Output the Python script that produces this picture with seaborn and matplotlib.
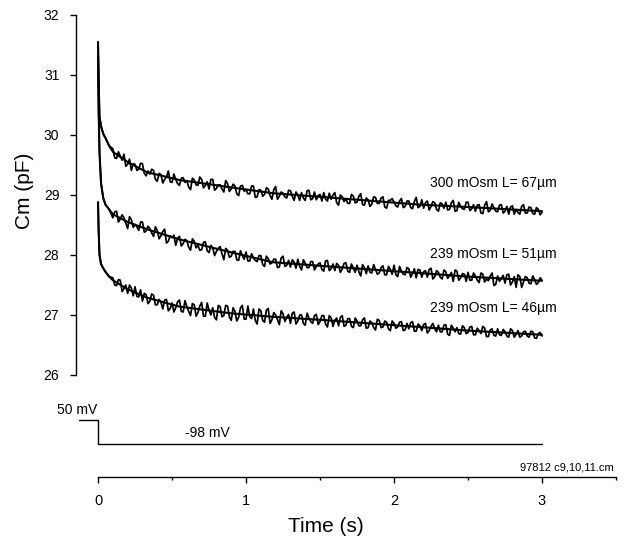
import pandas as pd
import seaborn as sns
import matplotlib.pyplot as plt

# sample times (s): dense right after the step, then every 25 ms
time = [0, 0.004, 0.01, 0.02, 0.035, 0.05, 0.075,
        0.1, 0.125, 0.15, 0.175, 0.2, 0.225, 0.25, 0.275,
        0.3, 0.325, 0.35, 0.375, 0.4, 0.425, 0.45, 0.475,
        0.5, 0.525, 0.55, 0.575, 0.6, 0.625, 0.65, 0.675,
        0.7, 0.725, 0.75, 0.775, 0.8, 0.825, 0.85, 0.875,
        0.9, 0.925, 0.95, 0.975, 1.0, 1.025, 1.05, 1.075,
        1.1, 1.125, 1.15, 1.175, 1.2, 1.225, 1.25, 1.275,
        1.3, 1.325, 1.35, 1.375, 1.4, 1.425, 1.45, 1.475,
        1.5, 1.525, 1.55, 1.575, 1.6, 1.625, 1.65, 1.675,
        1.7, 1.725, 1.75, 1.775, 1.8, 1.825, 1.85, 1.875,
        1.9, 1.925, 1.95, 1.975, 2.0, 2.025, 2.05, 2.075,
        2.1, 2.125, 2.15, 2.175, 2.2, 2.225, 2.25, 2.275,
        2.3, 2.325, 2.35, 2.375, 2.4, 2.425, 2.45, 2.475,
        2.5, 2.525, 2.55, 2.575, 2.6, 2.625, 2.65, 2.675,
        2.7, 2.725, 2.75, 2.775, 2.8, 2.825, 2.85, 2.875,
        2.9, 2.925, 2.95, 2.975, 3.0]

# in-between samples (s)
time_mid = [0.1125, 0.1375, 0.1625, 0.1875, 0.2125, 0.2375, 0.2625, 0.2875,
            0.3125, 0.3375, 0.3625, 0.3875, 0.4125, 0.4375, 0.4625, 0.4875,
            0.5125, 0.5375, 0.5625, 0.5875, 0.6125, 0.6375, 0.6625, 0.6875,
            0.7125, 0.7375, 0.7625, 0.7875, 0.8125, 0.8375, 0.8625, 0.8875,
            0.9125, 0.9375, 0.9625, 0.9875, 1.0125, 1.0375, 1.0625, 1.0875,
            1.1125, 1.1375, 1.1625, 1.1875, 1.2125, 1.2375, 1.2625, 1.2875,
            1.3125, 1.3375, 1.3625, 1.3875, 1.4125, 1.4375, 1.4625, 1.4875,
            1.5125, 1.5375, 1.5625, 1.5875, 1.6125, 1.6375, 1.6625, 1.6875,
            1.7125, 1.7375, 1.7625, 1.7875, 1.8125, 1.8375, 1.8625, 1.8875,
            1.9125, 1.9375, 1.9625, 1.9875, 2.0125, 2.0375, 2.0625, 2.0875,
            2.1125, 2.1375, 2.1625, 2.1875, 2.2125, 2.2375, 2.2625, 2.2875,
            2.3125, 2.3375, 2.3625, 2.3875, 2.4125, 2.4375, 2.4625, 2.4875,
            2.5125, 2.5375, 2.5625, 2.5875, 2.6125, 2.6375, 2.6625, 2.6875,
            2.7125, 2.7375, 2.7625, 2.7875, 2.8125, 2.8375, 2.8625, 2.8875,
            2.9125, 2.9375, 2.9625, 2.9875]

# Cm traces (pF)
cm_300_67 = [31.55, 30.90, 30.30, 30.15, 30.02, 29.95, 29.82,
             29.77, 29.61, 29.65, 29.68, 29.51, 29.41, 29.51, 29.43,
             29.52, 29.32, 29.35, 29.41, 29.23, 29.34, 29.26, 29.40,
             29.21, 29.26, 29.16, 29.29, 29.24, 29.09, 29.25, 29.16,
             29.26, 29.16, 29.10, 29.26, 29.11, 29.17, 29.05, 29.19,
             29.10, 29.15, 28.99, 29.16, 29.09, 29.02, 29.15, 28.97,
             29.08, 29.01, 29.10, 28.93, 29.14, 28.98, 29.03, 28.95,
             29.07, 28.91, 29.00, 29.04, 28.91, 29.08, 28.94, 28.92,
             29.01, 29.04, 28.90, 28.93, 29.04, 28.83, 28.97, 28.94,
             28.86, 28.98, 28.88, 29.02, 28.83, 28.92, 28.85, 28.96,
             28.86, 28.97, 28.78, 28.91, 28.88, 28.80, 28.94, 28.81,
             28.90, 28.77, 28.96, 28.81, 28.78, 28.90, 28.81, 28.87,
             28.73, 28.85, 28.88, 28.76, 28.91, 28.74, 28.81, 28.76,
             28.88, 28.77, 28.73, 28.84, 28.69, 28.89, 28.74, 28.79,
             28.72, 28.84, 28.73, 28.68, 28.82, 28.76, 28.68, 28.84,
             28.70, 28.79, 28.68, 28.76, 28.71]
cm_300_67_mid = [29.62, 29.72, 29.58, 29.48, 29.60, 29.52, 29.41, 29.53,
                 29.36, 29.40, 29.43, 29.26, 29.36, 29.20, 29.30, 29.22,
                 29.35, 29.19, 29.28, 29.21, 29.13, 29.28, 29.17, 29.30,
                 29.12, 29.22, 29.26, 29.08, 29.17, 29.10, 29.24, 29.06,
                 29.18, 29.02, 29.15, 29.06, 29.02, 29.15, 28.96, 29.09,
                 28.98, 29.12, 28.99, 29.09, 28.93, 29.05, 28.97, 29.08,
                 28.98, 29.05, 28.91, 28.95, 29.07, 28.92, 29.05, 28.99,
                 28.90, 28.93, 29.03, 29.00, 28.87, 29.00, 28.89, 28.86,
                 29.01, 28.87, 28.98, 28.84, 28.95, 28.81, 28.97, 28.86,
                 28.95, 28.80, 28.91, 28.94, 28.82, 28.90, 28.79, 28.90,
                 28.79, 28.89, 28.79, 28.92, 28.87, 28.75, 28.89, 28.76,
                 28.87, 28.78, 28.75, 28.87, 28.73, 28.88, 28.77, 28.88,
                 28.74, 28.84, 28.83, 28.70, 28.83, 28.72, 28.85, 28.73,
                 28.83, 28.70, 28.81, 28.80, 28.68, 28.71, 28.81, 28.70,
                 28.80, 28.69, 28.79, 28.67]

cm_239_51 = [31.30, 30.40, 29.70, 29.20, 28.95, 28.84, 28.76,
             28.62, 28.73, 28.60, 28.62, 28.44, 28.59, 28.51, 28.41,
             28.55, 28.40, 28.44, 28.31, 28.41, 28.32, 28.43, 28.23,
             28.29, 28.16, 28.31, 28.19, 28.24, 28.08, 28.23, 28.16,
             28.09, 28.22, 28.04, 28.12, 28.06, 28.14, 27.92, 28.08,
             27.98, 28.06, 27.91, 27.99, 28.05, 27.90, 27.95, 27.89,
             27.99, 27.81, 27.94, 27.87, 27.93, 27.80, 27.98, 27.83,
             27.80, 27.88, 27.93, 27.75, 27.86, 27.79, 27.89, 27.81,
             27.87, 27.73, 27.91, 27.77, 27.74, 27.83, 27.77, 27.87,
             27.71, 27.78, 27.83, 27.65, 27.79, 27.82, 27.70, 27.76,
             27.70, 27.82, 27.67, 27.76, 27.83, 27.64, 27.73, 27.67,
             27.77, 27.69, 27.62, 27.75, 27.72, 27.63, 27.78, 27.64,
             27.71, 27.60, 27.72, 27.65, 27.56, 27.73, 27.62, 27.68,
             27.71, 27.58, 27.65, 27.54, 27.68, 27.60, 27.65, 27.49,
             27.65, 27.61, 27.53, 27.68, 27.55, 27.46, 27.64, 27.55,
             27.62, 27.52, 27.59, 27.54, 27.58]
cm_239_51_mid = [28.72, 28.55, 28.67, 28.53, 28.64, 28.46, 28.47, 28.55,
                 28.38, 28.48, 28.37, 28.47, 28.27, 28.39, 28.20, 28.32,
                 28.33, 28.28, 28.15, 28.26, 28.13, 28.27, 28.12, 28.08,
                 28.21, 28.07, 28.16, 27.99, 28.11, 28.02, 28.11, 27.96,
                 28.06, 27.92, 28.07, 27.93, 27.90, 28.02, 27.91, 27.99,
                 27.84, 27.98, 27.85, 27.93, 27.79, 27.95, 27.81, 27.91,
                 27.92, 27.78, 27.81, 27.92, 27.79, 27.89, 27.75, 27.85,
                 27.76, 27.90, 27.74, 27.85, 27.86, 27.71, 27.86, 27.73,
                 27.85, 27.71, 27.72, 27.84, 27.69, 27.71, 27.84, 27.68,
                 27.79, 27.67, 27.81, 27.68, 27.67, 27.81, 27.68, 27.79,
                 27.63, 27.77, 27.76, 27.63, 27.74, 27.76, 27.60, 27.74,
                 27.63, 27.75, 27.61, 27.71, 27.75, 27.58, 27.69, 27.56,
                 27.58, 27.70, 27.58, 27.70, 27.55, 27.57, 27.70, 27.51,
                 27.56, 27.66, 27.67, 27.50, 27.64, 27.67, 27.46, 27.64,
                 27.53, 27.65, 27.51, 27.62]

cm_239_46 = [28.88, 28.40, 28.00, 27.85, 27.78, 27.72, 27.64,
             27.62, 27.49, 27.58, 27.44, 27.36, 27.45, 27.47, 27.30,
             27.23, 27.34, 27.23, 27.33, 27.17, 27.21, 27.25, 27.07,
             27.20, 27.12, 27.25, 27.05, 27.14, 26.99, 27.17, 27.04,
             27.21, 26.98, 27.08, 27.12, 26.92, 27.14, 26.99, 27.15,
             26.91, 27.06, 26.96, 27.16, 26.93, 26.97, 27.10, 26.85,
             27.07, 26.88, 27.11, 26.92, 27.00, 26.84, 27.02, 26.96,
             26.86, 27.05, 26.90, 27.00, 26.83, 26.95, 26.86, 27.01,
             26.89, 26.99, 26.80, 26.95, 26.91, 26.82, 26.99, 26.83,
             26.94, 26.79, 26.90, 26.82, 26.95, 26.79, 26.87, 26.75,
             26.91, 26.80, 26.88, 26.74, 26.86, 26.80, 26.89, 26.75,
             26.77, 26.89, 26.73, 26.82, 26.84, 26.70, 26.81, 26.77,
             26.83, 26.72, 26.84, 26.66, 26.78, 26.79, 26.68, 26.79,
             26.71, 26.81, 26.67, 26.74, 26.81, 26.64, 26.75, 26.66,
             26.77, 26.66, 26.72, 26.63, 26.74, 26.68, 26.63, 26.72,
             26.65, 26.73, 26.62, 26.69, 26.65]
cm_239_46_mid = [27.50, 27.59, 27.39, 27.50, 27.50, 27.32, 27.31, 27.42,
                 27.36, 27.19, 27.35, 27.17, 27.26, 27.10, 27.26, 27.11,
                 27.05, 27.22, 27.06, 27.24, 27.06, 27.19, 26.98, 27.15,
                 26.98, 27.20, 27.00, 26.96, 27.16, 26.97, 27.16, 26.97,
                 27.12, 26.90, 27.12, 26.93, 27.15, 26.94, 26.91, 27.10,
                 26.91, 27.08, 26.86, 27.04, 26.92, 27.07, 26.89, 27.01,
                 27.03, 26.85, 27.00, 26.86, 27.03, 26.89, 26.99, 26.84,
                 26.99, 26.85, 26.99, 26.81, 26.95, 26.96, 26.81, 26.94,
                 26.81, 26.95, 26.82, 26.92, 26.78, 26.90, 26.79, 26.93,
                 26.79, 26.90, 26.77, 26.90, 26.78, 26.88, 26.74, 26.86,
                 26.87, 26.73, 26.85, 26.74, 26.86, 26.74, 26.86, 26.72,
                 26.72, 26.83, 26.68, 26.83, 26.72, 26.69, 26.82, 26.69,
                 26.80, 26.67, 26.78, 26.69, 26.78, 26.64, 26.77, 26.65,
                 26.67, 26.76, 26.65, 26.77, 26.63, 26.74, 26.65, 26.73,
                 26.63, 26.72, 26.61, 26.71]

# smooth fits drawn through the traces
fit_time = [0, 0.004, 0.01, 0.02, 0.035, 0.05, 0.075, 0.1, 0.2, 0.33,
            0.55, 0.89, 1.18, 1.5, 2.17, 2.5, 3.0]
fit_300_67 = [31.55, 30.90, 30.30, 30.15, 30.02, 29.95, 29.82, 29.72, 29.55,
              29.38, 29.25, 29.13, 29.03, 28.97, 28.84, 28.80, 28.73]
fit_239_51 = [31.30, 30.40, 29.70, 29.20, 28.95, 28.84, 28.76, 28.68, 28.55,
              28.43, 28.26, 28.05, 27.88, 27.82, 27.70, 27.64, 27.57]
fit_239_46 = [28.88, 28.40, 28.00, 27.85, 27.78, 27.72, 27.64, 27.58, 27.43,
              27.29, 27.14, 27.03, 26.97, 26.92, 26.80, 26.74, 26.67]

trace_labels = ['300 mOsm L= 67µm', '239 mOsm L= 51µm', '239 mOsm L= 46µm']
label_cm = [29.2, 28.02, 27.12]

# voltage protocol
step_time = [-0.13, 0, 0, 3.0]
step_mv = [50, 50, -98, -98]

traces = {'300/67': (cm_300_67, cm_300_67_mid),
          '239/51': (cm_239_51, cm_239_51_mid),
          '239/46': (cm_239_46, cm_239_46_mid)}
fits = {'300/67': fit_300_67, '239/51': fit_239_51, '239/46': fit_239_46}

parts = []
for k, (main, mid) in traces.items():
    parts.append(pd.DataFrame({'time': time, 'cm': main, 'trace': k}))
    parts.append(pd.DataFrame({'time': time_mid, 'cm': mid, 'trace': k}))
df = pd.concat(parts).sort_values(['trace', 'time'])
df_fit = pd.concat([pd.DataFrame({'time': fit_time, 'cm': v, 'trace': k})
                    for k, v in fits.items()])
df_step = pd.DataFrame({'time': step_time, 'mv': step_mv})

sns.set_style('ticks')
plt.rcParams['font.family'] = ['Liberation Sans', 'DejaVu Sans']
plt.rcParams.update({'text.color': 'black', 'axes.labelcolor': 'black',
                     'xtick.color': 'black', 'ytick.color': 'black',
                     'axes.edgecolor': 'black'})

W, H = 628, 544
fig = plt.figure(figsize=(W / 100, H / 100), dpi=100)
xlim = (-0.149, 3.5)
left, width = 76 / W, 540 / W

# --- Cm panel ---
ax = fig.add_axes([left, 1 - 375 / H, width, 360 / H])
sns.lineplot(data=df, x='time', y='cm', units='trace', estimator=None,
             sort=False, color='black', lw=1.25, ax=ax)
sns.lineplot(data=df_fit, x='time', y='cm', units='trace', estimator=None,
             sort=False, color='black', lw=1.5, ax=ax)
for lab, yv in zip(trace_labels, label_cm):
    ax.text(3.097, yv, lab, ha='right', va='center', fontsize=10)
ax.set_xlim(*xlim)
ax.set_ylim(26, 32)
ax.set_yticks([26, 27, 28, 29, 30, 31, 32])
ax.set_xticks([])
ax.set_xlabel('')
ax.set_ylabel('Cm (pF)', fontsize=15)
ax.yaxis.set_label_coords(25 / W, 1 - 191 / H, transform=fig.transFigure)
ax.yaxis.label.set_va('center')
for s in ['top', 'right', 'bottom']:
    ax.spines[s].set_visible(False)
ax.spines['left'].set_linewidth(1.0)
ax.tick_params(axis='y', direction='out', length=4, width=1, pad=8,
               labelsize=10)

# --- voltage protocol ---
axv = fig.add_axes([left, 1 - 455 / H, width, 55 / H])
sns.lineplot(data=df_step, x='time', y='mv', sort=False, estimator=None,
             color='black', lw=1.0, ax=axv)
axv.text(-0.277, 116, '50 mV', ha='left', va='center', fontsize=10)
axv.text(0.588, -30, '-98 mV', ha='left', va='center', fontsize=10)
axv.set_xlim(*xlim)
axv.set_ylim(-170, 180)
axv.axis('off')

# --- time axis ---
axt = fig.add_axes([left, 1 - 477 / H, width, 5 / H])
axt.set_xlim(*xlim)
axt.set_yticks([])
for s in ['top', 'right', 'left']:
    axt.spines[s].set_visible(False)
axt.spines['bottom'].set_bounds(0, 3.5)
axt.spines['bottom'].set_linewidth(1.0)
axt.set_xticks([0, 1, 2, 3])
axt.set_xticks([0.5, 1.5, 2.5, 3.5], minor=True)
axt.tick_params(axis='x', which='major', direction='out', length=4, width=1,
                pad=8, labelsize=10.5)
axt.tick_params(axis='x', which='minor', direction='out', length=2.5, width=1)
axt.set_xlabel('Time (s)', fontsize=15)
axt.xaxis.set_label_coords(326 / W, 1 - 526 / H, transform=fig.transFigure)
axt.xaxis.label.set_va('center')

fig.text(614 / W, 1 - 467 / H, '97812 c9,10,11.cm', ha='right', va='center',
         fontsize=8)

fig.savefig('out.png', dpi=100, facecolor='white')
